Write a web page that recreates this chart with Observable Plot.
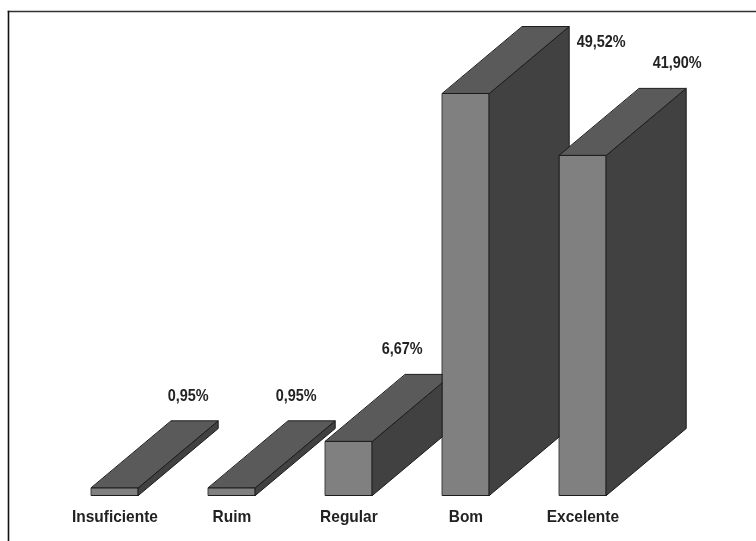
<!DOCTYPE html>
<html>
<head>
<meta charset="utf-8">
<script src="https://cdn.jsdelivr.net/npm/d3@7"></script>
<script src="https://cdn.jsdelivr.net/npm/@observablehq/plot@0.6"></script>
<style>
  html, body { margin: 0; padding: 0; background: #fff; }
  svg { display: block; filter: blur(0.3px); }
</style>
</head>
<body>
<div id="chart"></div>
<script>
const categories = ["Insuficiente", "Ruim", "Regular", "Bom", "Excelente"];
const values = [0.95, 0.95, 6.67, 49.52, 41.90];
const valueLabels = ["0,95%", "0,95%", "6,67%", "49,52%", "41,90%"];

// Bar geometry in scale units
const barWidth = 0.4;
const depthX = 0.683;
const depthY = 8.25;

// Label offsets (px) from each bar's back top corner
const labelDx = [-30, -39, -50, 32, -9];
const labelDy = [-25, -25, -26, 15.5, -26];

const faceFill = {front: "#808080", top: "#5a5a5a", side: "#414141"};

const faces = values.flatMap((v, i) => {
  const x0 = i, x1 = i + barWidth;
  const quads = {
    front: [[x0, 0], [x1, 0], [x1, v], [x0, v]],
    side: [[x1, 0], [x1 + depthX, depthY], [x1 + depthX, v + depthY], [x1, v]],
    top: [[x0, v], [x1, v], [x1 + depthX, v + depthY], [x0 + depthX, v + depthY]]
  };
  return Object.entries(quads).flatMap(([face, pts]) =>
    pts.map(([x, y]) => ({id: `${i}-${face}`, x, y, fill: faceFill[face]})));
});

const font = "'Liberation Sans', Arial, sans-serif";
const bars = values.map((v, i) => ({i, v, category: categories[i], label: valueLabels[i]}));

const slotPx = 117, originPx = 91, zeroPx = 495, unitPx = 8.118;

const chart = Plot.plot({
  width: 756,
  height: 541,
  margin: 0,
  style: {background: "#fff", overflow: "visible"},
  x: {domain: [-originPx / slotPx, (756 - originPx) / slotPx], range: [0, 756], axis: null},
  y: {domain: [(zeroPx - 541) / unitPx, zeroPx / unitPx], range: [541, 0], axis: null},
  marks: [
    Plot.frame({anchor: "top", insetTop: 11, insetLeft: 8, stroke: "#333", strokeWidth: 1.6}),
    Plot.frame({anchor: "left", insetLeft: 8, insetTop: 11, stroke: "#111", strokeWidth: 1.6}),
    Plot.line(faces, {
      x: "x", y: "y", z: "id", fill: "fill",
      stroke: "#1c1c1c", strokeWidth: 1, curve: "linear-closed", strokeLinejoin: "miter"
    }),
    Plot.text(bars, {
      x: d => d.i + barWidth / 2, y: 0, dy: 21.5, text: "category", className: "cat-label",
      fontFamily: font, fontWeight: "bold", fontSize: 17, fill: "#222"
    }),
    ...bars.map((d, i) => Plot.text([d], {
      x: d.i + barWidth + depthX, y: d.v + depthY, dx: labelDx[i], dy: labelDy[i], text: "label", className: "val-label",
      fontFamily: font, fontWeight: "bold", fontSize: 17, fill: "#222"
    }))
  ]
});
document.getElementById("chart").append(chart);

// The reference's lettering is condensed: squeeze the real text horizontally
function condense(selector, ratio) {
  chart.querySelectorAll(selector + " text").forEach(t => {
    t.setAttribute("textLength", t.getComputedTextLength() * ratio);
    t.setAttribute("lengthAdjust", "spacingAndGlyphs");
  });
}
condense(".cat-label", 0.91);
condense(".val-label", 0.85);
</script>
</body>
</html>
